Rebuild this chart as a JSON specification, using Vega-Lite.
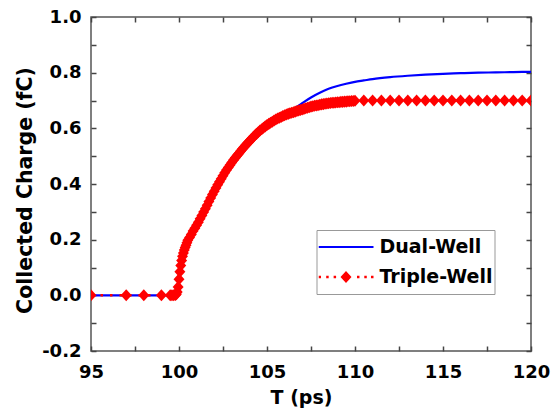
{
  "$schema": "https://vega.github.io/schema/vega-lite/v6.json",
  "autosize": {"type": "none"},
  "width": 440,
  "height": 334,
  "padding": {"left": 91, "top": 17, "right": 22, "bottom": 64},
  "background": "white",
  "config": {
    "view": {"stroke": "#555555", "strokeWidth": 1.5},
    "font": "DejaVu Sans",
    "axis": {
      "labelFont": "DejaVu Sans",
      "labelFontSize": 18,
      "labelFontWeight": "bold",
      "labelColor": "black",
      "titleFont": "DejaVu Sans",
      "titleFontWeight": "bold",
      "titleColor": "black",
      "ticks": true,
      "tickColor": "#444444",
      "tickSize": -5,
      "tickWidth": 1.5,
      "zindex": 1,
      "domain": false,
      "grid": false,
      "labelFlush": false,
      "labelOverlap": false
    }
  },
  "datasets": {
    "dual": [
      {"t": 95, "q": 0}, {"t": 99.5, "q": 0}, {"t": 99.8, "q": 0.001}, {"t": 99.9, "q": 0.012},
      {"t": 100, "q": 0.058}, {"t": 100.1, "q": 0.107}, {"t": 100.2, "q": 0.14}, {"t": 100.3, "q": 0.163},
      {"t": 100.4, "q": 0.18}, {"t": 100.5, "q": 0.198}, {"t": 101, "q": 0.252}, {"t": 101.5, "q": 0.311},
      {"t": 102, "q": 0.374}, {"t": 102.5, "q": 0.43}, {"t": 103, "q": 0.477}, {"t": 103.5, "q": 0.518},
      {"t": 104, "q": 0.554}, {"t": 104.5, "q": 0.586}, {"t": 105, "q": 0.612}, {"t": 105.5, "q": 0.632},
      {"t": 106, "q": 0.648}, {"t": 106.5, "q": 0.668}, {"t": 107, "q": 0.69}, {"t": 107.5, "q": 0.711},
      {"t": 108, "q": 0.728}, {"t": 108.5, "q": 0.742}, {"t": 109, "q": 0.752}, {"t": 109.5, "q": 0.76},
      {"t": 110, "q": 0.767}, {"t": 110.5, "q": 0.772}, {"t": 111, "q": 0.777}, {"t": 112, "q": 0.784},
      {"t": 113, "q": 0.789}, {"t": 114, "q": 0.793}, {"t": 115, "q": 0.796}, {"t": 116, "q": 0.798},
      {"t": 117, "q": 0.8}, {"t": 118, "q": 0.801}, {"t": 119, "q": 0.802}, {"t": 120, "q": 0.803}
    ],
    "triple": [
      {"t": 95, "q": 0}, {"t": 97, "q": 0}, {"t": 98, "q": 0}, {"t": 99, "q": 0},
      {"t": 99.5, "q": 0}, {"t": 99.6, "q": 0}, {"t": 99.7, "q": 0}, {"t": 99.8, "q": 0.001},
      {"t": 99.85, "q": 0.004}, {"t": 99.9, "q": 0.012}, {"t": 99.95, "q": 0.03}, {"t": 100, "q": 0.058},
      {"t": 100.05, "q": 0.085}, {"t": 100.1, "q": 0.107}, {"t": 100.15, "q": 0.125}, {"t": 100.2, "q": 0.14},
      {"t": 100.25, "q": 0.152}, {"t": 100.3, "q": 0.163}, {"t": 100.35, "q": 0.172}, {"t": 100.4, "q": 0.18},
      {"t": 100.45, "q": 0.189}, {"t": 100.5, "q": 0.198}, {"t": 100.6, "q": 0.208}, {"t": 100.7, "q": 0.219},
      {"t": 100.8, "q": 0.231}, {"t": 100.9, "q": 0.241}, {"t": 101, "q": 0.252}, {"t": 101.1, "q": 0.263},
      {"t": 101.2, "q": 0.275}, {"t": 101.3, "q": 0.287}, {"t": 101.4, "q": 0.299}, {"t": 101.5, "q": 0.311},
      {"t": 101.6, "q": 0.324}, {"t": 101.7, "q": 0.337}, {"t": 101.8, "q": 0.35}, {"t": 101.9, "q": 0.362},
      {"t": 102, "q": 0.374}, {"t": 102.1, "q": 0.386}, {"t": 102.2, "q": 0.397}, {"t": 102.3, "q": 0.408},
      {"t": 102.4, "q": 0.419}, {"t": 102.5, "q": 0.43}, {"t": 102.6, "q": 0.44}, {"t": 102.7, "q": 0.45},
      {"t": 102.8, "q": 0.459}, {"t": 102.9, "q": 0.468}, {"t": 103, "q": 0.477}, {"t": 103.1, "q": 0.486},
      {"t": 103.2, "q": 0.494}, {"t": 103.3, "q": 0.502}, {"t": 103.4, "q": 0.51}, {"t": 103.5, "q": 0.518},
      {"t": 103.6, "q": 0.526}, {"t": 103.7, "q": 0.533}, {"t": 103.8, "q": 0.54}, {"t": 103.9, "q": 0.547},
      {"t": 104, "q": 0.554}, {"t": 104.1, "q": 0.561}, {"t": 104.2, "q": 0.567}, {"t": 104.3, "q": 0.574},
      {"t": 104.4, "q": 0.58}, {"t": 104.5, "q": 0.586}, {"t": 104.6, "q": 0.592}, {"t": 104.7, "q": 0.597},
      {"t": 104.8, "q": 0.602}, {"t": 104.9, "q": 0.607}, {"t": 105, "q": 0.612}, {"t": 105.1, "q": 0.616},
      {"t": 105.2, "q": 0.62}, {"t": 105.3, "q": 0.624}, {"t": 105.4, "q": 0.628}, {"t": 105.5, "q": 0.632},
      {"t": 105.6, "q": 0.635}, {"t": 105.7, "q": 0.638}, {"t": 105.8, "q": 0.641}, {"t": 105.9, "q": 0.644},
      {"t": 106, "q": 0.647}, {"t": 106.1, "q": 0.65}, {"t": 106.2, "q": 0.652}, {"t": 106.3, "q": 0.654},
      {"t": 106.4, "q": 0.656}, {"t": 106.5, "q": 0.658}, {"t": 106.6, "q": 0.66}, {"t": 106.7, "q": 0.662},
      {"t": 106.8, "q": 0.664}, {"t": 106.9, "q": 0.666}, {"t": 107, "q": 0.668}, {"t": 107.1, "q": 0.67},
      {"t": 107.2, "q": 0.672}, {"t": 107.3, "q": 0.674}, {"t": 107.4, "q": 0.676}, {"t": 107.5, "q": 0.678},
      {"t": 107.6, "q": 0.679}, {"t": 107.7, "q": 0.681}, {"t": 107.8, "q": 0.682}, {"t": 107.9, "q": 0.683},
      {"t": 108, "q": 0.685}, {"t": 108.1, "q": 0.686}, {"t": 108.2, "q": 0.687}, {"t": 108.3, "q": 0.688},
      {"t": 108.4, "q": 0.689}, {"t": 108.5, "q": 0.69}, {"t": 108.6, "q": 0.691}, {"t": 108.7, "q": 0.692},
      {"t": 108.8, "q": 0.692}, {"t": 108.9, "q": 0.693}, {"t": 109, "q": 0.694}, {"t": 109.1, "q": 0.694},
      {"t": 109.2, "q": 0.695}, {"t": 109.3, "q": 0.695}, {"t": 109.4, "q": 0.696}, {"t": 109.5, "q": 0.696},
      {"t": 109.6, "q": 0.697}, {"t": 109.7, "q": 0.697}, {"t": 109.8, "q": 0.698}, {"t": 109.9, "q": 0.698},
      {"t": 110, "q": 0.699}, {"t": 110.5, "q": 0.7}, {"t": 111, "q": 0.7}, {"t": 111.5, "q": 0.7},
      {"t": 112, "q": 0.7}, {"t": 112.5, "q": 0.7}, {"t": 113, "q": 0.7}, {"t": 113.5, "q": 0.7},
      {"t": 114, "q": 0.7}, {"t": 114.5, "q": 0.7}, {"t": 115, "q": 0.7}, {"t": 115.5, "q": 0.7},
      {"t": 116, "q": 0.7}, {"t": 116.5, "q": 0.7}, {"t": 117, "q": 0.7}, {"t": 117.5, "q": 0.7},
      {"t": 118, "q": 0.7}, {"t": 118.5, "q": 0.7}, {"t": 119, "q": 0.7}, {"t": 119.5, "q": 0.7},
      {"t": 120, "q": 0.7}
    ]
  },
  "resolve": {"axis": {"x": "independent", "y": "independent"}},
  "layer": [
    {
      "data": {"name": "dual"},
      "mark": {"type": "line", "strokeWidth": 2.2, "interpolate": "monotone", "clip": true},
      "encoding": {
        "x": {
          "field": "t", "type": "quantitative",
          "scale": {"domain": [95, 120], "nice": false, "zero": false},
          "axis": {
            "orient": "bottom",
            "values": [95, 97.5, 100, 102.5, 105, 107.5, 110, 112.5, 115, 117.5, 120],
            "labelExpr": "datum.value % 5 === 0 ? format(datum.value, 'd') : ''",
            "labelBaseline": "alphabetic",
            "labelPadding": 31,
            "title": "T (ps)",
            "titleFontSize": 19,
            "titleBaseline": "alphabetic",
            "titleAlign": "center",
            "titleX": 210,
            "titleY": 52
          }
        },
        "y": {
          "field": "q", "type": "quantitative",
          "scale": {"domain": [-0.2, 1.0], "nice": false, "zero": false},
          "axis": {
            "orient": "left",
            "values": [-0.2, -0.1, 0, 0.1, 0.2, 0.3, 0.4, 0.5, 0.6, 0.7, 0.8, 0.9, 1.0],
            "labelExpr": "abs(round(datum.value * 10)) % 2 === 0 ? (datum.value < -0.001 ? '-' : '') + format(abs(datum.value), '.1f') : ''",
            "labelBaseline": "middle",
            "labelPadding": 15,
            "title": "Collected Charge (fC)",
            "titleFontSize": 20.5,
            "titleAngle": -90,
            "titleBaseline": "alphabetic",
            "titleAlign": "center",
            "titleX": -59.5,
            "titleY": 173
          }
        },
        "color": {
          "datum": "Dual-Well",
          "type": "nominal",
          "scale": {"domain": ["Dual-Well", "Triple-Well"], "range": ["#0000ff", "#ff0000"]},
          "legend": {
            "orient": "none",
            "legendX": 225.5,
            "legendY": 213,
            "title": null,
            "padding": 2,
            "strokeColor": "#999999",
            "fillColor": "white",
            "symbolSize": 3025,
            "symbolStrokeWidth": 0,
            "symbolOffset": 0,
            "clipHeight": 30,
            "rowPadding": 0,
            "labelOffset": 6,
            "labelFont": "DejaVu Sans",
            "labelFontSize": 19,
            "labelFontWeight": "bold",
            "labelColor": "black",
            "encode": {
              "symbols": {
                "update": {
                  "shape": {"signal": "datum.value === 'Dual-Well' ? 'M-1,-0.04L1,-0.04L1,0.04L-1,0.04Z' : 'M-1,-0.045L-0.91,-0.045L-0.91,0.045L-1,0.045Z M-0.72,-0.045L-0.63,-0.045L-0.63,0.045L-0.72,0.045Z M-0.45,-0.045L-0.36,-0.045L-0.36,0.045L-0.45,0.045Z M-0.2,0L0,-0.22L0.2,0L0,0.22Z M0.4,-0.045L0.49,-0.045L0.49,0.045L0.4,0.045Z M0.665,-0.045L0.755,-0.045L0.755,0.045L0.665,0.045Z M0.91,-0.045L1,-0.045L1,0.045L0.91,0.045Z'"},
                  "fill": {"signal": "datum.value === 'Dual-Well' ? '#0000ff' : '#ff0000'"},
                  "stroke": {"value": "transparent"}
                }
              }
            }
          }
        }
      }
    },
    {
      "data": {"name": "triple"},
      "mark": {"type": "line", "color": "#ff0000", "strokeWidth": 2.5, "strokeDash": [2.5, 7], "clip": true},
      "encoding": {
        "x": {
          "field": "t", "type": "quantitative",
          "axis": {
            "orient": "top",
            "values": [95, 97.5, 100, 102.5, 105, 107.5, 110, 112.5, 115, 117.5, 120],
            "labels": false,
            "title": null
          }
        },
        "y": {
          "field": "q", "type": "quantitative",
          "axis": {
            "orient": "right",
            "values": [-0.2, -0.1, 0, 0.1, 0.2, 0.3, 0.4, 0.5, 0.6, 0.7, 0.8, 0.9, 1.0],
            "labels": false,
            "title": null
          }
        }
      }
    },
    {
      "data": {"name": "triple"},
      "mark": {"type": "point", "filled": true, "color": "#ff0000", "opacity": 1, "size": 120, "shape": "M-1,0L0,-1.1L1,0L0,1.1Z", "clip": true},
      "encoding": {
        "x": {"field": "t", "type": "quantitative", "axis": null},
        "y": {"field": "q", "type": "quantitative", "axis": null}
      }
    }
  ]
}
